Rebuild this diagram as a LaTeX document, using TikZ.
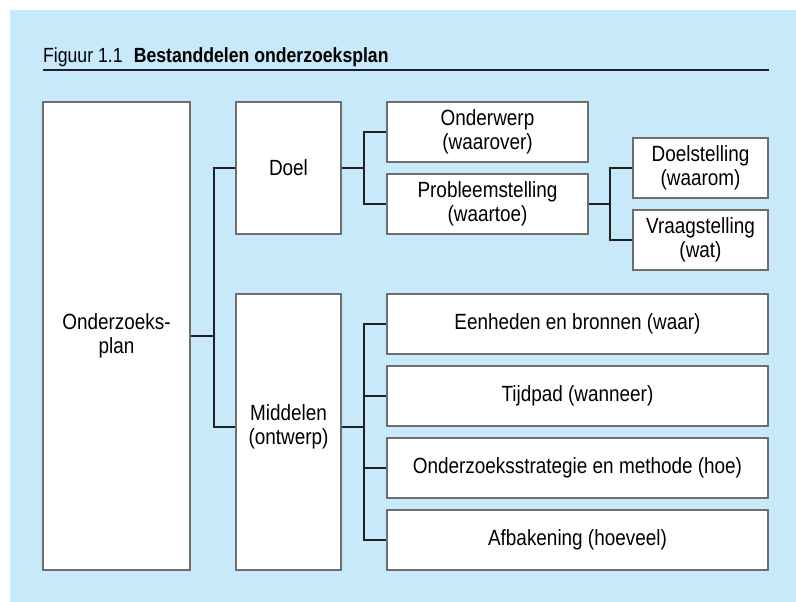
\documentclass[tikz,border=0pt]{standalone}
\usepackage{fontspec}
\setmainfont{Liberation Sans}[FakeStretch=0.86]
\definecolor{bgblue}{HTML}{C7E9F9}
\definecolor{boxline}{HTML}{6E6E6E}
\definecolor{connline}{HTML}{231F20}
\tikzset{
  box/.style={draw=boxline, line width=1.1pt, fill=white, inner sep=0pt, align=center,
    font=\fontsize{22}{24}\selectfont},
  conn/.style={draw=connline, line width=1.6pt},
  lbl/.style={inner sep=0pt, align=center, font=\fontsize{22}{24}\selectfont}
}
\begin{document}
\begin{tikzpicture}[x=1pt,y=-1pt]
\useasboundingbox (0,0) rectangle (796,602);
\fill[bgblue] (10,10) rectangle (796,602);
% title
\node[anchor=base west, inner sep=0pt, font=\fontsize{20.5}{22}\selectfont] (title) at (43,63)
  {Figuur 1.1\hspace{0.55em}\textbf{Bestanddelen onderzoeksplan}};
\draw[connline, line width=2.2pt] (43,70) -- (769,70);
% boxes
\node[box, minimum width=147pt, minimum height=468pt] (plan) at (116.5,336) {Onderzoeks-\\plan};
\node[box, minimum width=105pt, minimum height=132pt] (doel) at (288.5,168) {Doel};
\node[box, minimum width=105pt, minimum height=276pt] (middelen) at (288.5,432) {};
\node[lbl] (middelentxt) at (288.5,427) {Middelen\\(ontwerp)};
\node[box, minimum width=201pt, minimum height=60pt] (onderwerp) at (487.5,132) {Onderwerp\\(waarover)};
\node[box, minimum width=201pt, minimum height=60pt] (probleem) at (487.5,204) {Probleemstelling\\(waartoe)};
\node[box, minimum width=135pt, minimum height=60pt] (doelst) at (700.5,168) {Doelstelling\\(waarom)};
\node[box, minimum width=135pt, minimum height=60pt] (vraag) at (700.5,240) {Vraagstelling\\(wat)};
\node[box, minimum width=381pt, minimum height=60pt] (eenheden) at (577.5,324) {Eenheden en bronnen (waar)};
\node[box, minimum width=381pt, minimum height=60pt] (tijdpad) at (577.5,396) {Tijdpad (wanneer)};
\node[box, minimum width=381pt, minimum height=60pt] (strategie) at (577.5,468) {Onderzoeksstrategie en methode (hoe)};
\node[box, minimum width=381pt, minimum height=60pt] (afbakening) at (577.5,540) {Afbakening (hoeveel)};
% connectors
\coordinate (b1) at (214,0);
\coordinate (b2) at (364,0);
\coordinate (b3) at (610,0);
\coordinate (mw) at ([yshift=5pt]middelen.west);
\coordinate (me) at ([yshift=5pt]middelen.east);
\draw[conn] (plan.east) -- (plan.east -| b1);
\draw[conn] (doel.west) -| (b1 |- mw) -- (mw);
\draw[conn] (doel.west) -- (doel.west -| b1);
\draw[conn] (onderwerp.west) -| (b2 |- probleem.west) -- (probleem.west);
\draw[conn] (doel.east) -- (doel.east -| b2);
\draw[conn] (doelst.west) -| (b3 |- vraag.west) -- (vraag.west);
\draw[conn] (probleem.east) -- (probleem.east -| b3);
\draw[conn] (eenheden.west) -| (b2 |- afbakening.west) -- (afbakening.west);
\draw[conn] (tijdpad.west) -- (tijdpad.west -| b2);
\draw[conn] (strategie.west) -- (strategie.west -| b2);
\draw[conn] (me) -- (me -| b2);
\end{tikzpicture}
\end{document}
